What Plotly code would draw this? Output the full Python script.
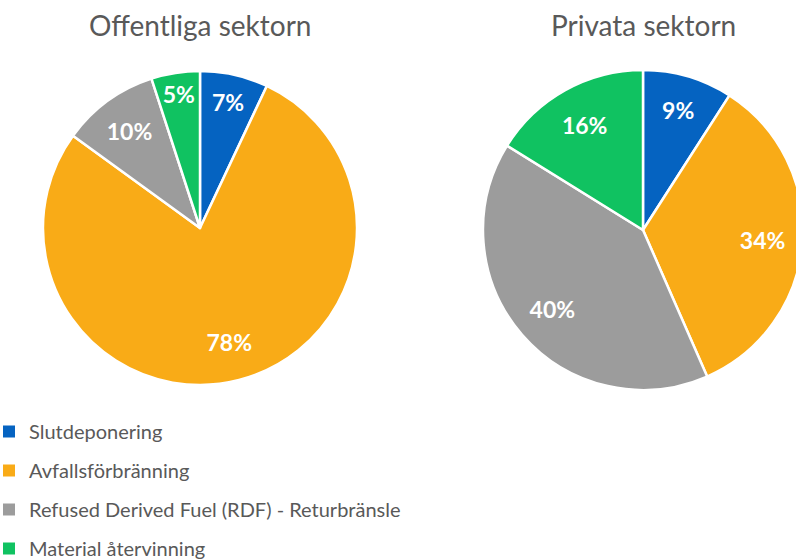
import plotly.graph_objects as go

categories = ["Slutdeponering", "Avfallsförbränning",
              "Refused Derived Fuel (RDF) - Returbränsle", "Material återvinning"]
colors = ["#0563c1", "#f9ab17", "#9c9c9c", "#10c261"]
offentliga = [7, 78, 10, 5]
privata = [9, 34, 40, 16]
titles = ["Offentliga sektorn", "Privata sektorn"]

W, H = 812, 559
FONT = "Lato, Open Sans, sans-serif"

def px(x0, x1):
    return [x0 / W, x1 / W]

def py(top, bottom):
    return [1 - bottom / H, 1 - top / H]

fig = go.Figure()
for vals, dx, dy in [(offentliga, px(43, 357), py(71, 385)),
                     (privata, px(483, 803), py(70, 390))]:
    # the slices
    fig.add_trace(go.Pie(
        labels=categories, values=vals, sort=False, direction="clockwise",
        rotation=0, marker=dict(colors=colors, line=dict(color="white", width=2.5)),
        textinfo="none", domain=dict(x=dx, y=dy), showlegend=False,
        hoverinfo="label+value"))
    # transparent ring carrying the data labels
    fig.add_trace(go.Pie(
        labels=categories, values=vals, sort=False, direction="clockwise",
        rotation=0, hole=0.5,
        marker=dict(colors=["rgba(0,0,0,0)"] * len(vals), line=dict(width=0)),
        texttemplate="%{value}%", textposition="inside",
        insidetextorientation="horizontal",
        textfont=dict(family=FONT, size=23, color="white", weight="bold"),
        domain=dict(x=dx, y=dy), showlegend=False, hoverinfo="skip"))

for cat, col in zip(categories, colors):
    fig.add_trace(go.Scatter(
        x=[None], y=[None], mode="markers", name=cat, legendgroup=cat,
        marker=dict(symbol="square", size=8, color=col), showlegend=True))

for t, cx in zip(titles, [200, 643]):
    fig.add_annotation(text=t, x=cx / W, y=1 - 25 / H, xref="paper", yref="paper",
                       xanchor="center", yanchor="middle", showarrow=False,
                       font=dict(family=FONT, size=28, color="#595959"))

fig.update_layout(
    width=W, height=H, margin=dict(l=0, r=0, t=0, b=0, autoexpand=False),
    paper_bgcolor="white", plot_bgcolor="white",
    uniformtext=dict(minsize=23, mode="show"),
    xaxis=dict(visible=False), yaxis=dict(visible=False),
    legend=dict(x=-11 / W, y=1 - 412 / H, xanchor="left", yanchor="top",
                tracegroupgap=10, itemsizing="constant",
                font=dict(family=FONT, size=20, color="#595959"),
                bgcolor="rgba(0,0,0,0)"),
)

fig.write_html("out.html", config={"displayModeBar": False},
               post_script="document.body.style.margin='0px';"
                           "document.body.style.overflow='hidden';")
